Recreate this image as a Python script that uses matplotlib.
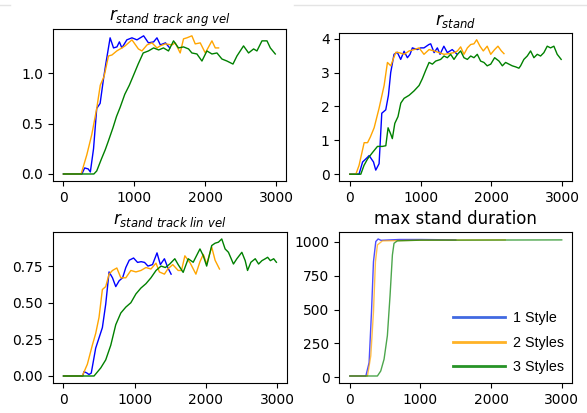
import matplotlib
matplotlib.use("Agg")
import matplotlib.pyplot as plt
from matplotlib.lines import Line2D

# r_stand track ang vel
ang_blue_t = [0, 260, 300, 350, 380, 425, 470, 518, 565, 600, 659, 707, 755, 790, 825, 895, 967, 1038, 1132, 1200, 1273, 1320, 1368, 1440, 1500]
ang_blue_y = [0, 0, 0.06, 0.05, 0.02, 0.25, 0.65, 0.70, 0.94, 1.1, 1.35, 1.25, 1.26, 1.31, 1.25, 1.33, 1.35, 1.33, 1.37, 1.3, 1.31, 1.35, 1.28, 1.3, 1.25]
ang_orange_t = [0, 250, 330, 400, 470, 520, 575, 636, 685, 753, 825, 870, 967, 1058, 1108, 1180, 1250, 1320, 1366, 1437, 1533, 1578, 1648, 1695, 1742, 1813, 1860, 1931, 2002, 2096, 2143, 2190]
ang_orange_y = [0, 0, 0.19, 0.39, 0.65, 0.88, 0.97, 1.17, 1.18, 1.22, 1.25, 1.27, 1.33, 1.24, 1.22, 1.28, 1.3, 1.25, 1.27, 1.29, 1.28, 1.3, 1.2, 1.34, 1.35, 1.37, 1.29, 1.3, 1.2, 1.32, 1.25, 1.25]
ang_green_t = [0, 430, 470, 537, 590, 631, 700, 749, 800, 866, 930, 984, 1055, 1126, 1200, 1273, 1344, 1412, 1483, 1554, 1624, 1695, 1766, 1813, 1884, 1955, 2025, 2096, 2167, 2237, 2308, 2393, 2449, 2542, 2613, 2684, 2731, 2802, 2873, 2920, 2990]
ang_green_y = [0, 0, 0.03, 0.15, 0.24, 0.32, 0.46, 0.57, 0.66, 0.79, 0.88, 0.97, 1.09, 1.2, 1.22, 1.25, 1.23, 1.25, 1.22, 1.32, 1.25, 1.26, 1.24, 1.2, 1.19, 1.12, 1.22, 1.19, 1.2, 1.14, 1.12, 1.09, 1.17, 1.27, 1.2, 1.24, 1.22, 1.32, 1.32, 1.25, 1.19]

# r_stand
st_blue_t = [0, 130, 180, 250, 272, 334, 366, 413, 451, 507, 545, 577, 624, 670, 718, 766, 813, 850, 883, 954, 1000, 1047, 1117, 1142, 1190, 1236, 1274, 1328, 1377, 1446, 1516]
st_blue_y = [0, 0, 0.36, 0.5, 0.55, 0.36, 0.12, 0.31, 1.8, 1.9, 2.33, 3.0, 3.54, 3.6, 3.39, 3.63, 3.44, 3.54, 3.73, 3.68, 3.73, 3.73, 3.83, 3.85, 3.59, 3.73, 3.54, 3.78, 3.59, 3.68, 3.54]
st_orange_t = [0, 85, 130, 202, 250, 290, 343, 413, 484, 531, 578, 611, 650, 695, 766, 837, 907, 978, 1047, 1119, 1190, 1260, 1330, 1400, 1471, 1520, 1565, 1612, 1660, 1707, 1753, 1791, 1838, 1885, 1940, 1990, 2045, 2092, 2140, 2177]
st_orange_y = [0, 0, 0.26, 0.93, 0.93, 1.1, 1.37, 1.95, 2.62, 3.3, 3.2, 3.39, 3.6, 3.59, 3.54, 3.64, 3.68, 3.73, 3.54, 3.68, 3.64, 3.59, 3.54, 3.56, 3.59, 3.64, 3.76, 3.54, 3.73, 3.83, 3.85, 3.97, 3.78, 3.64, 3.78, 3.54, 3.68, 3.78, 3.64, 3.56]
st_green_t = [0, 155, 200, 250, 320, 390, 460, 508, 540, 578, 600, 635, 680, 720, 766, 837, 907, 978, 1024, 1070, 1119, 1166, 1212, 1283, 1330, 1377, 1424, 1471, 1520, 1565, 1612, 1660, 1707, 1753, 1800, 1847, 1894, 1940, 1990, 2045, 2107, 2154, 2200, 2247, 2294, 2341, 2388, 2412, 2458, 2506, 2553, 2600, 2647, 2694, 2741, 2788, 2835, 2882, 2929, 2985]
st_green_y = [0, 0, 0.26, 0.45, 0.64, 0.82, 0.82, 0.84, 1.37, 1.18, 1.05, 1.5, 1.7, 2.1, 2.24, 2.33, 2.46, 2.62, 2.82, 3.06, 3.3, 3.25, 3.34, 3.39, 3.49, 3.44, 3.54, 3.39, 3.54, 3.64, 3.44, 3.39, 3.49, 3.44, 3.54, 3.34, 3.3, 3.2, 3.25, 3.44, 3.34, 3.2, 3.3, 3.25, 3.2, 3.17, 3.13, 3.2, 3.39, 3.49, 3.64, 3.44, 3.54, 3.49, 3.59, 3.78, 3.73, 3.78, 3.54, 3.39]

# r_stand track lin vel
lin_blue_t = [0, 270, 288, 330, 358, 390, 452, 499, 546, 593, 640, 688, 734, 782, 830, 875, 923, 984, 1040, 1090, 1138, 1186, 1250, 1313, 1360, 1417, 1464, 1511]
lin_blue_y = [0, 0, 0.03, 0.02, 0.01, 0.02, 0.19, 0.26, 0.33, 0.49, 0.71, 0.67, 0.61, 0.65, 0.67, 0.74, 0.79, 0.805, 0.775, 0.78, 0.775, 0.75, 0.76, 0.84, 0.76, 0.8, 0.74, 0.695]
lin_orange_t = [0, 264, 335, 405, 452, 499, 546, 593, 640, 688, 749, 805, 875, 946, 1017, 1087, 1158, 1228, 1299, 1346, 1417, 1464, 1534, 1610, 1657, 1704, 1780, 1859, 1916, 1963, 2010, 2081, 2128, 2190]
lin_orange_y = [0, 0, 0.08, 0.21, 0.29, 0.4, 0.59, 0.61, 0.695, 0.72, 0.737, 0.67, 0.67, 0.72, 0.71, 0.72, 0.74, 0.73, 0.77, 0.71, 0.695, 0.73, 0.76, 0.72, 0.72, 0.82, 0.77, 0.695, 0.78, 0.83, 0.764, 0.88, 0.79, 0.73]
lin_green_t = [0, 429, 523, 593, 664, 734, 805, 875, 946, 1017, 1087, 1158, 1228, 1299, 1370, 1430, 1492, 1563, 1610, 1680, 1751, 1821, 1916, 1963, 2010, 2081, 2128, 2175, 2222, 2269, 2316, 2386, 2434, 2504, 2551, 2584, 2631, 2692, 2739, 2786, 2833, 2866, 2904, 2951, 2989]
lin_green_y = [0, 0, 0.055, 0.11, 0.21, 0.35, 0.43, 0.47, 0.5, 0.56, 0.6, 0.63, 0.67, 0.72, 0.75, 0.74, 0.764, 0.8, 0.76, 0.707, 0.8, 0.776, 0.867, 0.82, 0.75, 0.89, 0.906, 0.913, 0.935, 0.867, 0.844, 0.764, 0.8, 0.844, 0.787, 0.72, 0.776, 0.8, 0.764, 0.787, 0.8, 0.81, 0.787, 0.8, 0.776]

# max stand duration
dur_blue_t = [0, 226, 272, 306, 334, 367, 400, 440, 700, 1000, 1500]
dur_blue_y = [10, 10, 109, 482, 854, 1003, 1022, 1012, 1018, 1018, 1015]
dur_orange_t = [0, 249, 296, 334, 362, 390, 461, 700, 1000, 2200]
dur_orange_y = [10, 10, 159, 482, 854, 978, 1008, 1010, 1013, 1015]
dur_green_t = [0, 390, 437, 484, 531, 569, 602, 625, 672, 1000, 3000]
dur_green_y = [10, 10, 47, 134, 308, 605, 903, 990, 1008, 1013, 1015]

labels = ['1 Style', '2 Styles', '3 Styles']
colors = ['blue', 'orange', 'green']

fig = plt.figure(figsize=(5.87, 4.13), dpi=100)

ax1 = fig.add_axes([0.090, 0.562, 0.397, 0.368])
ax2 = fig.add_axes([0.578, 0.562, 0.396, 0.358])
ax3 = fig.add_axes([0.090, 0.073, 0.399, 0.365])
ax4 = fig.add_axes([0.578, 0.073, 0.397, 0.365])

lw = 1.0
ax1.plot(ang_blue_t, ang_blue_y, color='blue', lw=lw)
ax1.plot(ang_orange_t, ang_orange_y, color='orange', lw=lw)
ax1.plot(ang_green_t, ang_green_y, color='green', lw=lw)
ax1.set_title(r'$r_{stand\ track\ ang\ vel}$')

ax2.plot(st_blue_t, st_blue_y, color='blue', lw=lw)
ax2.plot(st_orange_t, st_orange_y, color='orange', lw=lw)
ax2.plot(st_green_t, st_green_y, color='green', lw=lw)
ax2.set_title(r'$r_{stand}$')

ax3.plot(lin_blue_t, lin_blue_y, color='blue', lw=lw)
ax3.plot(lin_orange_t, lin_orange_y, color='orange', lw=lw)
ax3.plot(lin_green_t, lin_green_y, color='green', lw=lw)
ax3.set_title(r'$r_{stand\ track\ lin\ vel}$')
ax3.set_yticks([0, 0.25, 0.5, 0.75])

ax4.plot(dur_blue_t, dur_blue_y, color='blue', lw=lw, alpha=0.7)
ax4.plot(dur_orange_t, dur_orange_y, color='orange', lw=lw, alpha=0.7)
ax4.plot(dur_green_t, dur_green_y, color='green', lw=lw, alpha=0.7)
ax4.set_title('max stand duration')
ax4.set_yticks([0, 250, 500, 750, 1000])

for ax in (ax1, ax2, ax3, ax4):
    ax.set_xticks([0, 1000, 2000, 3000])

# legend
handles = [Line2D([], [], color='royalblue', lw=2),
           Line2D([], [], color='orange', lw=2, alpha=0.85),
           Line2D([], [], color='green', lw=2, alpha=0.85)]
ax4.legend(handles, labels, loc='lower right', frameon=False,
           prop={'family': 'Liberation Sans', 'size': 10.3},
           handlelength=3.6, handletextpad=0.55, labelspacing=0.75,
           borderaxespad=0.2)

# faint line along the top edge
fig.add_artist(Line2D([0.0, 0.017], [0.988, 0.988], color='#e4e4e4', lw=1, transform=fig.transFigure))
fig.add_artist(Line2D([0.5, 1.0], [0.988, 0.988], color='#e4e4e4', lw=1, transform=fig.transFigure))

fig.savefig('out.png', dpi=100)
